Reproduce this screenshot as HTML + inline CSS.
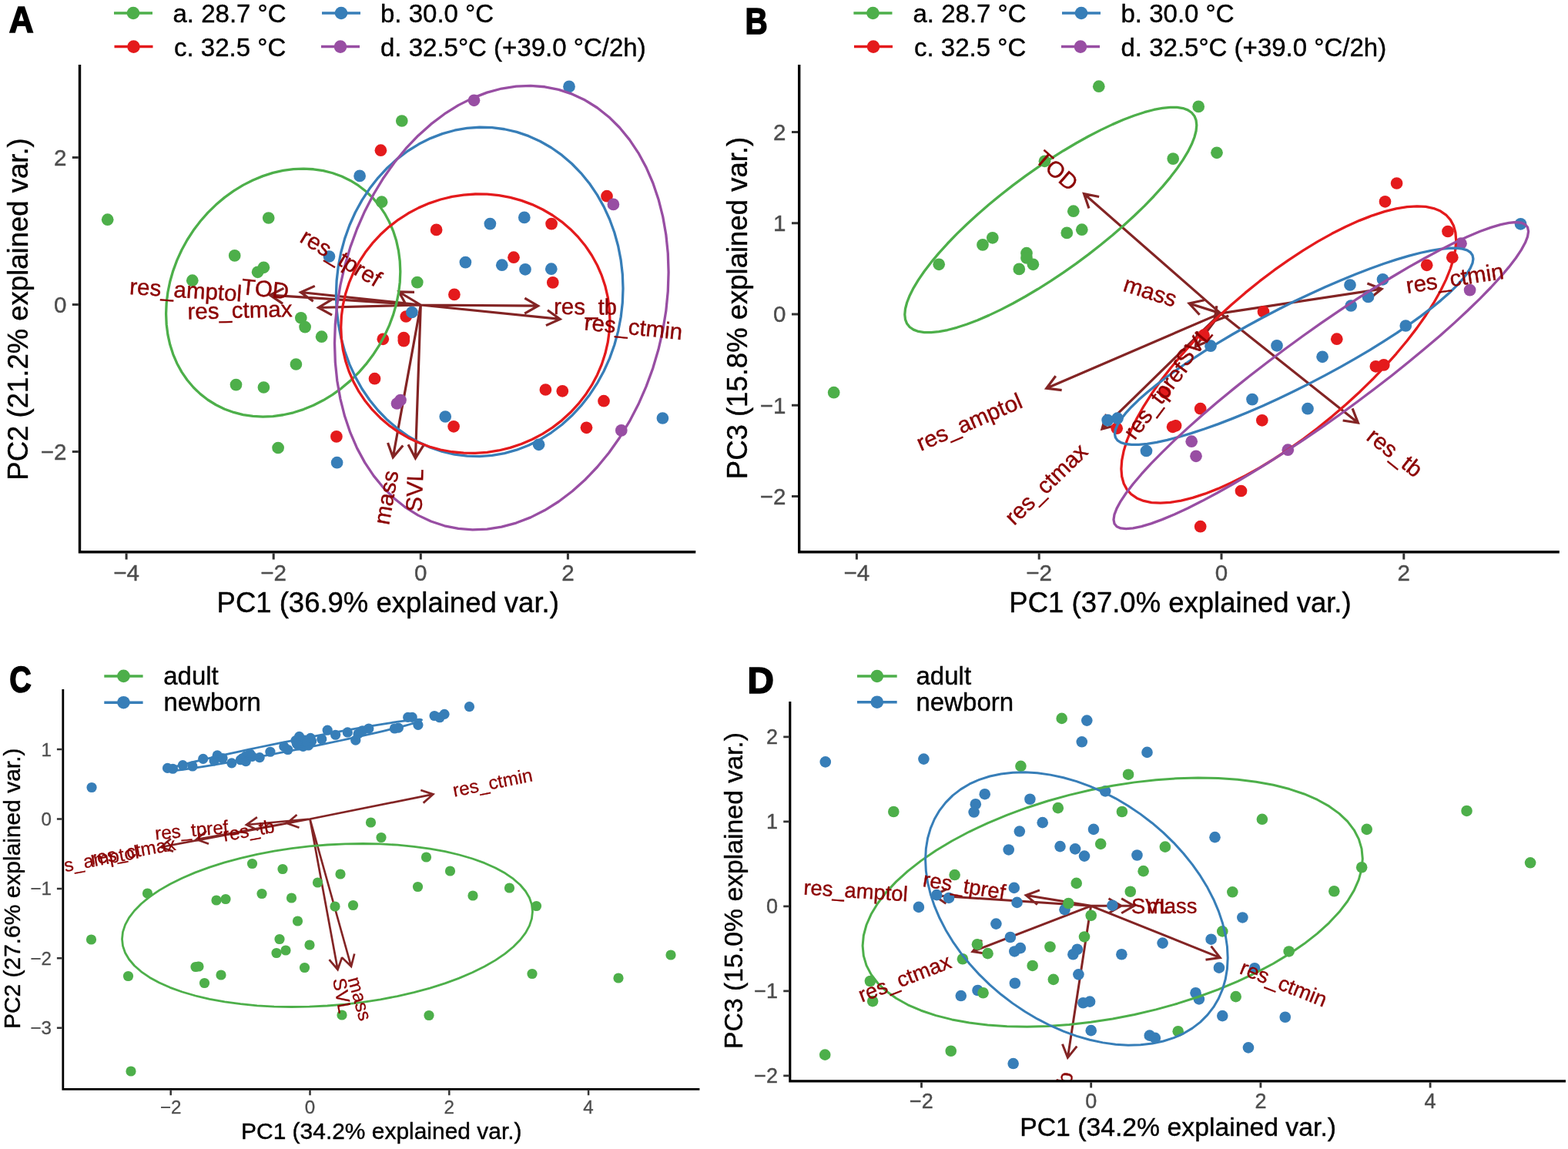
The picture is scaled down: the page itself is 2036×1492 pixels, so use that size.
<!DOCTYPE html>
<html lang="en"><head><meta charset="utf-8"><title>PCA biplots</title>
<style>html,body{margin:0;padding:0;background:#fff;overflow:hidden}svg{display:block}</style></head>
<body>
<svg width="2036" height="1492" viewBox="0 0 2036 1492">
<rect width="2036" height="1492" fill="#fff"/>
<g id="panelA">
<clipPath id="clipA"><rect x="103.5" y="84" width="799.8" height="632.8"/></clipPath>
<g clip-path="url(#clipA)">
<path d="M546.3 396 L698.6 397.2 M681.36 387.06 L698.6 397.2 L681.2 407.06 M546.3 396 L727.2 414.4 M710.98 402.7 L727.2 414.4 L708.96 422.6 M546.3 396 L539.4 595 M549.99 578.04 L539.4 595 L530.01 577.34 M546.3 396 L510.3 593.8 M523.24 578.55 L510.3 593.8 L503.56 574.97 M546.3 396 L518 379 M527.7 396.49 L518 379 L538 379.35 M546.3 396 L350.5 383.2 M367.13 394.31 L350.5 383.2 L368.44 374.35 M546.3 396 L390.5 379.5 M406.67 391.27 L390.5 379.5 L408.78 371.38 M546.3 396 L413.5 399.5 M431.08 409.04 L413.5 399.5 L430.55 389.05" fill="none" stroke="#832424" stroke-width="3.2" stroke-linejoin="miter" stroke-linecap="butt"/>
<g fill="#4DAF4A"><circle cx="139.7" cy="285.2" r="7.85"/><circle cx="348.7" cy="283" r="7.85"/><circle cx="304.7" cy="331.9" r="7.85"/><circle cx="342.4" cy="347.3" r="7.85"/><circle cx="334.6" cy="353.3" r="7.85"/><circle cx="249.8" cy="364.2" r="7.85"/><circle cx="521.8" cy="157" r="7.85"/><circle cx="495.6" cy="262.2" r="7.85"/><circle cx="541.8" cy="366.6" r="7.85"/><circle cx="390.8" cy="412.8" r="7.85"/><circle cx="396.1" cy="424.6" r="7.85"/><circle cx="417.6" cy="437.2" r="7.85"/><circle cx="384.4" cy="473" r="7.85"/><circle cx="306.5" cy="499.6" r="7.85"/><circle cx="342.4" cy="503" r="7.85"/><circle cx="361.1" cy="581.5" r="7.85"/></g>
<g fill="#E41A1C"><circle cx="494.4" cy="195.2" r="7.85"/><circle cx="788" cy="254.7" r="7.85"/><circle cx="566.6" cy="298.4" r="7.85"/><circle cx="716.1" cy="290.6" r="7.85"/><circle cx="667" cy="334.2" r="7.85"/><circle cx="717.8" cy="366.9" r="7.85"/><circle cx="589.9" cy="382.4" r="7.85"/><circle cx="527.2" cy="411" r="7.85"/><circle cx="497.3" cy="440.3" r="7.85"/><circle cx="524.3" cy="438.6" r="7.85"/><circle cx="524.3" cy="442.6" r="7.85"/><circle cx="486.5" cy="491.7" r="7.85"/><circle cx="708.4" cy="506" r="7.85"/><circle cx="730.3" cy="507.8" r="7.85"/><circle cx="784" cy="520.7" r="7.85"/><circle cx="761.5" cy="555.3" r="7.85"/><circle cx="589.1" cy="553.8" r="7.85"/><circle cx="436.9" cy="566.9" r="7.85"/></g>
<g fill="#377EB8"><circle cx="739" cy="112.4" r="7.85"/><circle cx="467.1" cy="228.4" r="7.85"/><circle cx="427.5" cy="333" r="7.85"/><circle cx="636.4" cy="290.6" r="7.85"/><circle cx="680.8" cy="282.4" r="7.85"/><circle cx="604.4" cy="340.6" r="7.85"/><circle cx="651.8" cy="344.2" r="7.85"/><circle cx="682" cy="349.8" r="7.85"/><circle cx="715.8" cy="349.2" r="7.85"/><circle cx="534.9" cy="405.5" r="7.85"/><circle cx="578.2" cy="541" r="7.85"/><circle cx="699.6" cy="577.3" r="7.85"/><circle cx="860.4" cy="543" r="7.85"/><circle cx="437.6" cy="600.7" r="7.85"/></g>
<g fill="#984EA3"><circle cx="615.5" cy="130.3" r="7.85"/><circle cx="796.4" cy="265.4" r="7.85"/><circle cx="515.5" cy="524" r="7.85"/><circle cx="520" cy="519.5" r="7.85"/><circle cx="806.8" cy="558.9" r="7.85"/></g>
<path d="M519.8 352.73 L519.22 366.66 L517.49 380.7 L514.62 394.73 L510.63 408.64 L505.55 422.35 L499.42 435.73 L492.29 448.68 L484.22 461.12 L475.25 472.93 L465.47 484.04 L454.94 494.37 L443.75 503.82 L431.98 512.32 L419.72 519.83 L407.07 526.27 L394.11 531.59 L380.96 535.77 L367.7 538.76 L354.44 540.54 L341.29 541.1 L328.33 540.43 L315.68 538.55 L303.42 535.46 L291.65 531.19 L280.46 525.76 L269.93 519.23 L260.15 511.64 L251.18 503.05 L243.11 493.52 L235.98 483.13 L229.85 471.96 L224.77 460.08 L220.78 447.6 L217.91 434.6 L216.18 421.19 L215.6 407.47 L216.18 393.54 L217.91 379.5 L220.78 365.47 L224.77 351.56 L229.85 337.85 L235.98 324.47 L243.11 311.52 L251.18 299.08 L260.15 287.27 L269.93 276.16 L280.46 265.83 L291.65 256.38 L303.42 247.88 L315.68 240.37 L328.33 233.93 L341.29 228.61 L354.44 224.43 L367.7 221.44 L380.96 219.66 L394.11 219.1 L407.07 219.77 L419.72 221.65 L431.98 224.74 L443.75 229.01 L454.94 234.44 L465.47 240.97 L475.25 248.56 L484.22 257.15 L492.29 266.68 L499.42 277.07 L505.55 288.24 L510.63 300.12 L514.62 312.6 L517.49 325.6 L519.22 339.01Z" fill="none" stroke="#4DAF4A" stroke-width="3.3" stroke-linejoin="round"/>
<path d="M809 374.63 L808.29 393.26 L806.17 411.79 L802.65 430.07 L797.76 447.96 L791.55 465.32 L784.04 482.03 L775.31 497.95 L765.41 512.96 L754.43 526.96 L742.45 539.82 L729.56 551.47 L715.85 561.8 L701.43 570.73 L686.42 578.21 L670.92 584.17 L655.05 588.57 L638.94 591.37 L622.7 592.56 L606.46 592.12 L590.35 590.05 L574.48 586.38 L558.98 581.13 L543.97 574.35 L529.55 566.07 L515.84 556.37 L502.95 545.32 L490.97 533 L479.99 519.51 L470.09 504.95 L461.36 489.43 L453.85 473.07 L447.64 455.99 L442.75 438.33 L439.23 420.21 L437.11 401.78 L436.4 383.17 L437.11 364.54 L439.23 346.01 L442.75 327.73 L447.64 309.84 L453.85 292.48 L461.36 275.77 L470.09 259.85 L479.99 244.84 L490.97 230.84 L502.95 217.98 L515.84 206.33 L529.55 196 L543.97 187.07 L558.98 179.59 L574.48 173.63 L590.35 169.23 L606.46 166.43 L622.7 165.24 L638.94 165.68 L655.05 167.75 L670.92 171.42 L686.42 176.67 L701.43 183.45 L715.85 191.73 L729.56 201.43 L742.45 212.48 L754.43 224.8 L765.41 238.29 L775.31 252.85 L784.04 268.37 L791.55 284.73 L797.76 301.81 L802.65 319.47 L806.17 337.59 L808.29 356.02Z" fill="none" stroke="#377EB8" stroke-width="3.3" stroke-linejoin="round"/>
<path d="M791.9 415.15 L791.24 429.83 L789.25 444.44 L785.95 458.86 L781.37 472.99 L775.54 486.72 L768.51 499.94 L760.32 512.55 L751.05 524.46 L740.76 535.58 L729.53 545.82 L717.45 555.11 L704.6 563.36 L691.09 570.53 L677.02 576.55 L662.49 581.39 L647.62 584.99 L632.52 587.34 L617.3 588.42 L602.08 588.22 L586.98 586.75 L572.11 584 L557.58 580.01 L543.51 574.8 L530 568.41 L517.15 560.9 L505.07 552.31 L493.84 542.72 L483.55 532.2 L474.28 520.83 L466.09 508.68 L459.06 495.87 L453.23 482.48 L448.65 468.62 L445.35 454.38 L443.36 439.89 L442.7 425.25 L443.36 410.57 L445.35 395.96 L448.65 381.54 L453.23 367.41 L459.06 353.68 L466.09 340.46 L474.28 327.85 L483.55 315.94 L493.84 304.82 L505.07 294.58 L517.15 285.29 L530 277.04 L543.51 269.87 L557.58 263.85 L572.11 259.01 L586.98 255.41 L602.08 253.06 L617.3 251.98 L632.52 252.18 L647.62 253.65 L662.49 256.4 L677.02 260.39 L691.09 265.6 L704.6 271.99 L717.45 279.5 L729.53 288.09 L740.76 297.68 L751.05 308.2 L760.32 319.57 L768.51 331.72 L775.54 344.53 L781.37 357.92 L785.95 371.78 L789.25 386.02 L791.24 400.51Z" fill="none" stroke="#E41A1C" stroke-width="3.3" stroke-linejoin="round"/>
<path d="M868.1 353.47 L867.28 378.45 L864.81 403.59 L860.71 428.7 L855.03 453.59 L847.79 478.07 L839.05 501.94 L828.89 525.05 L817.38 547.19 L804.6 568.22 L790.66 587.95 L775.65 606.26 L759.7 622.99 L742.92 638.03 L725.45 651.25 L707.41 662.55 L688.95 671.85 L670.2 679.08 L651.3 684.19 L632.4 687.12 L613.65 687.87 L595.19 686.43 L577.15 682.8 L559.68 677.02 L542.9 669.12 L526.95 659.18 L511.94 647.26 L498 633.45 L485.22 617.86 L473.71 600.62 L463.55 581.84 L454.81 561.68 L447.57 540.28 L441.89 517.81 L437.79 494.45 L435.32 470.36 L434.5 445.73 L435.32 420.75 L437.79 395.61 L441.89 370.5 L447.57 345.61 L454.81 321.13 L463.55 297.26 L473.71 274.15 L485.22 252.01 L498 230.98 L511.94 211.25 L526.95 192.94 L542.9 176.21 L559.68 161.17 L577.15 147.95 L595.19 136.65 L613.65 127.35 L632.4 120.12 L651.3 115.01 L670.2 112.08 L688.95 111.33 L707.41 112.77 L725.45 116.4 L742.92 122.18 L759.7 130.08 L775.65 140.02 L790.66 151.94 L804.6 165.75 L817.38 181.34 L828.89 198.58 L839.05 217.36 L847.79 237.52 L855.03 258.92 L860.71 281.39 L864.81 304.75 L867.28 328.84Z" fill="none" stroke="#984EA3" stroke-width="3.3" stroke-linejoin="round"/>
<g fill="#8B0000" stroke="#8B0000" stroke-width="0.4" font-family="'Liberation Sans', sans-serif" font-size="29.5">
<text x="760.09" y="397.68" text-anchor="middle" dy="0.36em" transform="rotate(0.45 760.09 397.68)">res_tb</text>
<text x="822.61" y="424.1" text-anchor="middle" dy="0.36em" transform="rotate(5.81 822.61 424.1)">res_ctmin</text>
<text x="537.95" y="636.79" text-anchor="middle" dy="0.36em" transform="rotate(-88.01 537.95 636.79)">SVL</text>
<text x="500.83" y="645.81" text-anchor="middle" dy="0.36em" transform="rotate(-79.68 500.83 645.81)">mass</text>
<text x="443.15" y="334.04" text-anchor="middle" dy="0.36em" transform="rotate(30.99 443.15 334.04)">res_tpref</text>
<text x="241.28" y="376.06" text-anchor="middle" dy="0.36em" transform="rotate(3.74 241.28 376.06)">res_amptol</text>
<text x="344.45" y="374.62" text-anchor="middle" dy="0.36em" transform="rotate(6.05 344.45 374.62)">TOD</text>
<text x="311.49" y="402.19" text-anchor="middle" dy="0.36em" transform="rotate(-1.51 311.49 402.19)">res_ctmax</text>
</g>
</g>
<path d="M103.5 84 L103.5 716.8 L903.3 716.8" fill="none" stroke="#000" stroke-width="3.4" stroke-linejoin="miter"/>
<path d="M164.1 718.5 v8 M355.2 718.5 v8 M546.3 718.5 v8 M737.4 718.5 v8 M101.8 204.5 h-8 M101.8 395.5 h-8 M101.8 586.4 h-8" stroke="#333" stroke-width="3" fill="none"/>
<g fill="#4D4D4D" stroke="#4D4D4D" stroke-width="0.4" font-family="'Liberation Sans', sans-serif" font-size="29.6">
<text x="164.1" y="754.2" text-anchor="middle">−4</text>
<text x="355.2" y="754.2" text-anchor="middle">−2</text>
<text x="546.3" y="754.2" text-anchor="middle">0</text>
<text x="737.4" y="754.2" text-anchor="middle">2</text>
<text x="86.5" y="214.8" text-anchor="end">2</text>
<text x="86.5" y="405.8" text-anchor="end">0</text>
<text x="86.5" y="596.7" text-anchor="end">−2</text>
</g>
<text x="503.7" y="795" text-anchor="middle" font-family="'Liberation Sans', sans-serif" font-size="36.5" fill="#000" stroke="#000" stroke-width="0.4">PC1 (36.9% explained var.)</text>
<text x="36.4" y="401.5" text-anchor="middle" font-family="'Liberation Sans', sans-serif" font-size="36.5" fill="#000" stroke="#000" stroke-width="0.4" transform="rotate(-90 36.4 401.5)">PC2 (21.2% explained var.)</text>
<line x1="148" y1="17" x2="198" y2="17" stroke="#4DAF4A" stroke-width="3.5"/>
<circle cx="173" cy="17" r="8.3" fill="#4DAF4A"/>
<text x="224.5" y="29.3" font-family="'Liberation Sans', sans-serif" font-size="33" fill="#000" stroke="#000" stroke-width="0.4">a. 28.7 °C</text>
<line x1="418" y1="17" x2="468" y2="17" stroke="#377EB8" stroke-width="3.5"/>
<circle cx="443" cy="17" r="8.3" fill="#377EB8"/>
<text x="494" y="29.3" font-family="'Liberation Sans', sans-serif" font-size="33" fill="#000" stroke="#000" stroke-width="0.4">b. 30.0 °C</text>
<line x1="148.5" y1="60.6" x2="198.5" y2="60.6" stroke="#E41A1C" stroke-width="3.5"/>
<circle cx="173.5" cy="60.6" r="8.3" fill="#E41A1C"/>
<text x="226" y="72.6" font-family="'Liberation Sans', sans-serif" font-size="33" fill="#000" stroke="#000" stroke-width="0.4">c. 32.5 °C</text>
<line x1="417" y1="60.6" x2="467" y2="60.6" stroke="#984EA3" stroke-width="3.5"/>
<circle cx="442" cy="60.6" r="8.3" fill="#984EA3"/>
<text x="494" y="72.6" font-family="'Liberation Sans', sans-serif" font-size="33" fill="#000" stroke="#000" stroke-width="0.4">d. 32.5°C (+39.0 °C/2h)</text>
<text x="0" y="0" font-family="'Liberation Sans', sans-serif" font-weight="bold" font-size="47.5" fill="#000" stroke="#000" stroke-width="1.6" transform="translate(11.7 42.4) scale(0.93 1)">A</text>
</g>
<g id="panelB">
<clipPath id="clipB"><rect x="1037.7" y="84" width="987.1" height="632.8"/></clipPath>
<g clip-path="url(#clipB)">
<path d="M1584.9 406.9 L1407.5 251.6 M1413.95 270.53 L1407.5 251.6 L1427.12 255.48 M1584.9 406.9 L1544.1 394 M1557.6 408.76 L1544.1 394 L1563.63 389.69 M1584.9 406.9 L1794 375.2 M1775.38 367.91 L1794 375.2 L1778.37 387.68 M1584.9 406.9 L1763.4 549 M1756.08 530.39 L1763.4 549 L1743.62 546.04 M1584.9 406.9 L1358.8 504.2 M1378.66 506.54 L1358.8 504.2 L1370.76 488.17 M1584.9 406.9 L1431 557 M1450.38 552.07 L1431 557 L1436.42 537.75 M1584.9 406.9 L1552.4 450 M1570.81 442.19 L1552.4 450 L1554.84 430.15 M1584.9 406.9 L1576.6 417 M1595.32 409.97 L1576.6 417 L1579.87 397.27" fill="none" stroke="#832424" stroke-width="3.2" stroke-linejoin="miter" stroke-linecap="butt"/>
<g fill="#4DAF4A"><circle cx="1426.8" cy="112.2" r="7.85"/><circle cx="1556.2" cy="138.4" r="7.85"/><circle cx="1580" cy="198.3" r="7.85"/><circle cx="1523.2" cy="206.1" r="7.85"/><circle cx="1356.5" cy="209.3" r="7.85"/><circle cx="1393.8" cy="274.2" r="7.85"/><circle cx="1404.8" cy="298.2" r="7.85"/><circle cx="1385.3" cy="302.4" r="7.85"/><circle cx="1288.8" cy="308.8" r="7.85"/><circle cx="1276" cy="317.9" r="7.85"/><circle cx="1333" cy="328.7" r="7.85"/><circle cx="1333" cy="334.9" r="7.85"/><circle cx="1341.4" cy="343.3" r="7.85"/><circle cx="1323.3" cy="349.4" r="7.85"/><circle cx="1219.2" cy="343.3" r="7.85"/><circle cx="1082.7" cy="509.7" r="7.85"/></g>
<g fill="#E41A1C"><circle cx="1813.6" cy="238" r="7.85"/><circle cx="1798.5" cy="261.8" r="7.85"/><circle cx="1880" cy="300.5" r="7.85"/><circle cx="1885.8" cy="334.2" r="7.85"/><circle cx="1852.7" cy="344.3" r="7.85"/><circle cx="1640.5" cy="404.8" r="7.85"/><circle cx="1735.8" cy="440.2" r="7.85"/><circle cx="1786.4" cy="475.8" r="7.85"/><circle cx="1796.8" cy="473.9" r="7.85"/><circle cx="1563" cy="435.2" r="7.85"/><circle cx="1558.7" cy="530.7" r="7.85"/><circle cx="1638.8" cy="545.8" r="7.85"/><circle cx="1522.6" cy="554.3" r="7.85"/><circle cx="1526.6" cy="552.8" r="7.85"/><circle cx="1450.2" cy="556.2" r="7.85"/><circle cx="1611.5" cy="637.5" r="7.85"/><circle cx="1558.7" cy="683.7" r="7.85"/><circle cx="1512.6" cy="509.8" r="7.85"/></g>
<g fill="#377EB8"><circle cx="1974.5" cy="290.8" r="7.85"/><circle cx="1795.5" cy="362.8" r="7.85"/><circle cx="1753" cy="370" r="7.85"/><circle cx="1776.5" cy="385.4" r="7.85"/><circle cx="1754.2" cy="397" r="7.85"/><circle cx="1825.3" cy="423" r="7.85"/><circle cx="1658" cy="448.8" r="7.85"/><circle cx="1572" cy="449.2" r="7.85"/><circle cx="1717.1" cy="463.3" r="7.85"/><circle cx="1626" cy="518.6" r="7.85"/><circle cx="1698" cy="530.7" r="7.85"/><circle cx="1438.2" cy="545.6" r="7.85"/><circle cx="1451" cy="543.2" r="7.85"/><circle cx="1488.5" cy="585.5" r="7.85"/></g>
<g fill="#984EA3"><circle cx="1897" cy="316.2" r="7.85"/><circle cx="1908.6" cy="376.6" r="7.85"/><circle cx="1547.2" cy="573.2" r="7.85"/><circle cx="1553" cy="592.3" r="7.85"/><circle cx="1672.3" cy="584.2" r="7.85"/></g>
<path d="M1553.8 162.61 L1553.08 169.99 L1550.92 178.26 L1547.34 187.34 L1542.37 197.17 L1536.05 207.67 L1528.41 218.76 L1519.53 230.36 L1509.47 242.38 L1498.3 254.73 L1486.11 267.32 L1472.99 280.04 L1459.05 292.8 L1444.39 305.51 L1429.11 318.06 L1413.35 330.37 L1397.21 342.33 L1380.82 353.87 L1364.3 364.88 L1347.78 375.29 L1331.39 385.01 L1315.25 393.98 L1299.49 402.12 L1284.21 409.38 L1269.55 415.69 L1255.61 421.01 L1242.49 425.3 L1230.3 428.53 L1219.13 430.67 L1209.07 431.7 L1200.19 431.62 L1192.55 430.43 L1186.23 428.13 L1181.26 424.75 L1177.68 420.31 L1175.52 414.84 L1174.8 408.39 L1175.52 401.01 L1177.68 392.74 L1181.26 383.66 L1186.23 373.83 L1192.55 363.33 L1200.19 352.24 L1209.07 340.64 L1219.13 328.62 L1230.3 316.27 L1242.49 303.68 L1255.61 290.96 L1269.55 278.2 L1284.21 265.49 L1299.49 252.94 L1315.25 240.63 L1331.39 228.67 L1347.78 217.13 L1364.3 206.12 L1380.82 195.71 L1397.21 185.99 L1413.35 177.02 L1429.11 168.88 L1444.39 161.62 L1459.05 155.31 L1472.99 149.99 L1486.11 145.7 L1498.3 142.47 L1509.47 140.33 L1519.53 139.3 L1528.41 139.38 L1536.05 140.57 L1542.37 142.87 L1547.34 146.25 L1550.92 150.69 L1553.08 156.16Z" fill="none" stroke="#4DAF4A" stroke-width="3.3" stroke-linejoin="round"/>
<path d="M1890.7 312.12 L1889.87 323.4 L1887.4 335.73 L1883.29 349 L1877.59 363.12 L1870.33 377.98 L1861.57 393.48 L1851.38 409.48 L1839.84 425.87 L1827.03 442.52 L1813.04 459.31 L1798 476.11 L1782 492.79 L1765.18 509.22 L1747.66 525.29 L1729.57 540.86 L1711.05 555.82 L1692.25 570.05 L1673.3 583.45 L1654.35 595.92 L1635.55 607.35 L1617.03 617.66 L1598.94 626.78 L1581.42 634.64 L1564.6 641.17 L1548.6 646.32 L1533.56 650.06 L1519.57 652.36 L1506.76 653.2 L1495.22 652.57 L1485.03 650.48 L1476.27 646.94 L1469.01 641.98 L1463.31 635.65 L1459.2 627.98 L1456.73 619.03 L1455.9 608.88 L1456.73 597.6 L1459.2 585.27 L1463.31 572 L1469.01 557.88 L1476.27 543.02 L1485.03 527.52 L1495.22 511.52 L1506.76 495.13 L1519.57 478.48 L1533.56 461.69 L1548.6 444.89 L1564.6 428.21 L1581.42 411.78 L1598.94 395.71 L1617.03 380.14 L1635.55 365.18 L1654.35 350.95 L1673.3 337.55 L1692.25 325.08 L1711.05 313.65 L1729.57 303.34 L1747.66 294.22 L1765.18 286.36 L1782 279.83 L1798 274.68 L1813.04 270.94 L1827.03 268.64 L1839.84 267.8 L1851.38 268.43 L1861.57 270.52 L1870.33 274.06 L1877.59 279.02 L1883.29 285.35 L1887.4 293.02 L1889.87 301.97Z" fill="none" stroke="#E41A1C" stroke-width="3.3" stroke-linejoin="round"/>
<path d="M1912.9 336.15 L1912.01 341.65 L1909.36 347.98 L1904.97 355.09 L1898.87 362.92 L1891.1 371.4 L1881.72 380.49 L1870.82 390.1 L1858.46 400.16 L1844.74 410.61 L1829.78 421.35 L1813.67 432.31 L1796.55 443.4 L1778.54 454.54 L1759.79 465.64 L1740.43 476.63 L1720.61 487.41 L1700.48 497.9 L1680.2 508.03 L1659.92 517.71 L1639.79 526.88 L1619.97 535.46 L1600.61 543.39 L1581.86 550.6 L1563.85 557.05 L1546.73 562.68 L1530.62 567.46 L1515.66 571.34 L1501.94 574.29 L1489.58 576.3 L1478.68 577.34 L1469.3 577.41 L1461.53 576.51 L1455.43 574.65 L1451.04 571.84 L1448.39 568.1 L1447.5 563.45 L1448.39 557.95 L1451.04 551.62 L1455.43 544.51 L1461.53 536.68 L1469.3 528.2 L1478.68 519.11 L1489.58 509.5 L1501.94 499.44 L1515.66 488.99 L1530.62 478.25 L1546.73 467.29 L1563.85 456.2 L1581.86 445.06 L1600.61 433.96 L1619.97 422.97 L1639.79 412.19 L1659.92 401.7 L1680.2 391.57 L1700.48 381.89 L1720.61 372.72 L1740.43 364.14 L1759.79 356.21 L1778.54 349 L1796.55 342.55 L1813.67 336.92 L1829.78 332.14 L1844.74 328.26 L1858.46 325.31 L1870.82 323.3 L1881.72 322.26 L1891.1 322.19 L1898.87 323.09 L1904.97 324.95 L1909.36 327.76 L1912.01 331.5Z" fill="none" stroke="#377EB8" stroke-width="3.3" stroke-linejoin="round"/>
<path d="M1984.6 300.45 L1983.58 307.08 L1980.51 315.08 L1975.42 324.4 L1968.36 334.97 L1959.37 346.69 L1948.52 359.48 L1935.9 373.25 L1921.6 387.89 L1905.72 403.29 L1888.4 419.34 L1869.76 435.9 L1849.95 452.85 L1829.11 470.07 L1807.41 487.42 L1785 504.77 L1762.06 522 L1738.77 538.96 L1715.3 555.53 L1691.83 571.58 L1668.54 586.99 L1645.6 601.65 L1623.19 615.44 L1601.49 628.26 L1580.65 640 L1560.84 650.59 L1542.2 659.94 L1524.88 667.97 L1509 674.63 L1494.7 679.87 L1482.08 683.64 L1471.23 685.93 L1462.24 686.7 L1455.18 685.96 L1450.09 683.71 L1447.02 679.96 L1446 674.75 L1447.02 668.12 L1450.09 660.12 L1455.18 650.8 L1462.24 640.23 L1471.23 628.51 L1482.08 615.72 L1494.7 601.95 L1509 587.31 L1524.88 571.91 L1542.2 555.86 L1560.84 539.3 L1580.65 522.35 L1601.49 505.13 L1623.19 487.78 L1645.6 470.43 L1668.54 453.2 L1691.83 436.24 L1715.3 419.67 L1738.77 403.62 L1762.06 388.21 L1785 373.55 L1807.41 359.76 L1829.11 346.94 L1849.95 335.2 L1869.76 324.61 L1888.4 315.26 L1905.72 307.23 L1921.6 300.57 L1935.9 295.33 L1948.52 291.56 L1959.37 289.27 L1968.36 288.5 L1975.42 289.24 L1980.51 291.49 L1983.58 295.24Z" fill="none" stroke="#984EA3" stroke-width="3.3" stroke-linejoin="round"/>
<g fill="#8B0000" stroke="#8B0000" stroke-width="0.4" font-family="'Liberation Sans', sans-serif" font-size="29.5">
<text x="1372.66" y="221.1" text-anchor="middle" dy="0.36em" transform="rotate(41.2 1372.66 221.1)">TOD</text>
<text x="1493.7" y="378.06" text-anchor="middle" dy="0.36em" transform="rotate(17.55 1493.7 378.06)">mass</text>
<text x="1888.82" y="360.83" text-anchor="middle" dy="0.36em" transform="rotate(-8.62 1888.82 360.83)">res_ctmin</text>
<text x="1811.51" y="587.3" text-anchor="middle" dy="0.36em" transform="rotate(38.52 1811.51 587.3)">res_tb</text>
<text x="1258.26" y="547.46" text-anchor="middle" dy="0.36em" transform="rotate(-23.28 1258.26 547.46)">res_amptol</text>
<text x="1357.94" y="628.25" text-anchor="middle" dy="0.36em" transform="rotate(-44.28 1357.94 628.25)">res_ctmax</text>
<text x="1499.83" y="519.72" text-anchor="middle" dy="0.36em" transform="rotate(-52.98 1499.83 519.72)">res_tpref</text>
<text x="1550.05" y="449.31" text-anchor="middle" dy="0.36em" transform="rotate(-50.59 1550.05 449.31)">SVL</text>
</g>
</g>
<path d="M1037.7 84 L1037.7 716.8 L2024.8 716.8" fill="none" stroke="#000" stroke-width="3.4" stroke-linejoin="miter"/>
<path d="M1112.4 718.5 v8 M1349.2 718.5 v8 M1586 718.5 v8 M1822.8 718.5 v8 M1036 171.4 h-8 M1036 289.7 h-8 M1036 408 h-8 M1036 526.3 h-8 M1036 644.6 h-8" stroke="#333" stroke-width="3" fill="none"/>
<g fill="#4D4D4D" stroke="#4D4D4D" stroke-width="0.4" font-family="'Liberation Sans', sans-serif" font-size="29.6">
<text x="1112.4" y="754.2" text-anchor="middle">−4</text>
<text x="1349.2" y="754.2" text-anchor="middle">−2</text>
<text x="1586" y="754.2" text-anchor="middle">0</text>
<text x="1822.8" y="754.2" text-anchor="middle">2</text>
<text x="1020.5" y="181.7" text-anchor="end">2</text>
<text x="1020.5" y="300" text-anchor="end">1</text>
<text x="1020.5" y="418.3" text-anchor="end">0</text>
<text x="1020.5" y="536.6" text-anchor="end">−1</text>
<text x="1020.5" y="654.9" text-anchor="end">−2</text>
</g>
<text x="1532.5" y="795.3" text-anchor="middle" font-family="'Liberation Sans', sans-serif" font-size="36.5" fill="#000" stroke="#000" stroke-width="0.4">PC1 (37.0% explained var.)</text>
<text x="969.6" y="400" text-anchor="middle" font-family="'Liberation Sans', sans-serif" font-size="36.5" fill="#000" stroke="#000" stroke-width="0.4" transform="rotate(-90 969.6 400)">PC3 (15.8% explained var.)</text>
<line x1="1108.4" y1="17" x2="1158.5" y2="17" stroke="#4DAF4A" stroke-width="3.5"/>
<circle cx="1133.45" cy="17" r="8.3" fill="#4DAF4A"/>
<text x="1185.5" y="29.3" font-family="'Liberation Sans', sans-serif" font-size="33" fill="#000" stroke="#000" stroke-width="0.4">a. 28.7 °C</text>
<line x1="1379" y1="17" x2="1429" y2="17" stroke="#377EB8" stroke-width="3.5"/>
<circle cx="1404" cy="17" r="8.3" fill="#377EB8"/>
<text x="1455.5" y="29.3" font-family="'Liberation Sans', sans-serif" font-size="33" fill="#000" stroke="#000" stroke-width="0.4">b. 30.0 °C</text>
<line x1="1109" y1="60.6" x2="1159" y2="60.6" stroke="#E41A1C" stroke-width="3.5"/>
<circle cx="1134" cy="60.6" r="8.3" fill="#E41A1C"/>
<text x="1187" y="72.6" font-family="'Liberation Sans', sans-serif" font-size="33" fill="#000" stroke="#000" stroke-width="0.4">c. 32.5 °C</text>
<line x1="1378" y1="60.6" x2="1428" y2="60.6" stroke="#984EA3" stroke-width="3.5"/>
<circle cx="1403" cy="60.6" r="8.3" fill="#984EA3"/>
<text x="1455.5" y="72.6" font-family="'Liberation Sans', sans-serif" font-size="33" fill="#000" stroke="#000" stroke-width="0.4">d. 32.5°C (+39.0 °C/2h)</text>
<text x="0" y="0" font-family="'Liberation Sans', sans-serif" font-weight="bold" font-size="48.2" fill="#000" stroke="#000" stroke-width="1.6" transform="translate(967.6 43.6) scale(0.84 1)">B</text>
</g>
<g id="panelC">
<clipPath id="clipC"><rect x="81.8" y="895" width="826.6" height="519.3"/></clipPath>
<g clip-path="url(#clipC)">
<path d="M402.5 1063.5 L562.4 1031.4 M546.29 1025.96 L562.4 1031.4 L549.64 1042.63 M402.5 1063.5 L372.5 1069 M388.51 1074.71 L372.5 1069 L385.45 1057.98 M402.5 1063.5 L320 1071 M335.43 1078.13 L320 1071 L333.89 1061.2 M402.5 1063.5 L255 1090 M270.99 1095.76 L255 1090 L267.99 1079.03 M402.5 1063.5 L209 1100 M225.04 1105.62 L209 1100 L221.89 1088.92 M402.5 1063.5 L456 1255 M460.23 1238.53 L456 1255 L443.85 1243.11 M402.5 1063.5 L438.5 1259 M444.19 1242.98 L438.5 1259 L427.47 1246.06" fill="none" stroke="#832424" stroke-width="2.7" stroke-linejoin="miter" stroke-linecap="butt"/>
<g fill="#4DAF4A"><circle cx="481.5" cy="1068" r="6.6"/><circle cx="495" cy="1087.5" r="6.6"/><circle cx="553.5" cy="1113" r="6.6"/><circle cx="584.5" cy="1131" r="6.6"/><circle cx="327.5" cy="1121.5" r="6.6"/><circle cx="367" cy="1128.5" r="6.6"/><circle cx="442" cy="1135" r="6.6"/><circle cx="412.5" cy="1146" r="6.6"/><circle cx="542.5" cy="1151.5" r="6.6"/><circle cx="661.5" cy="1153" r="6.6"/><circle cx="614" cy="1163" r="6.6"/><circle cx="191.5" cy="1160" r="6.6"/><circle cx="340" cy="1160.5" r="6.6"/><circle cx="378.5" cy="1166" r="6.6"/><circle cx="281" cy="1169" r="6.6"/><circle cx="293" cy="1167.5" r="6.6"/><circle cx="435" cy="1177" r="6.6"/><circle cx="458.5" cy="1175.5" r="6.6"/><circle cx="696.5" cy="1176.5" r="6.6"/><circle cx="386.5" cy="1196" r="6.6"/><circle cx="118.5" cy="1220" r="6.6"/><circle cx="363" cy="1219.5" r="6.6"/><circle cx="402" cy="1227" r="6.6"/><circle cx="371" cy="1234" r="6.6"/><circle cx="359" cy="1237.5" r="6.6"/><circle cx="871" cy="1240" r="6.6"/><circle cx="254" cy="1255.5" r="6.6"/><circle cx="258" cy="1255" r="6.6"/><circle cx="395.5" cy="1256.5" r="6.6"/><circle cx="166.5" cy="1267.5" r="6.6"/><circle cx="287" cy="1266" r="6.6"/><circle cx="265.5" cy="1276.5" r="6.6"/><circle cx="691" cy="1264.5" r="6.6"/><circle cx="803" cy="1270" r="6.6"/><circle cx="444" cy="1318" r="6.6"/><circle cx="557" cy="1318.5" r="6.6"/><circle cx="170" cy="1391" r="6.6"/></g>
<g fill="#377EB8"><circle cx="119.06" cy="1022.48" r="6.6"/><circle cx="609.47" cy="917.68" r="6.6"/><circle cx="577.02" cy="927.31" r="6.6"/><circle cx="570.96" cy="931.71" r="6.6"/><circle cx="564.09" cy="929.51" r="6.6"/><circle cx="542.91" cy="941.34" r="6.6"/><circle cx="535.21" cy="931.43" r="6.6"/><circle cx="529.71" cy="931.43" r="6.6"/><circle cx="517.33" cy="945.19" r="6.6"/><circle cx="512.38" cy="946.01" r="6.6"/><circle cx="478.82" cy="946.01" r="6.6"/><circle cx="470.57" cy="948.76" r="6.6"/><circle cx="465.07" cy="952.89" r="6.6"/><circle cx="461.77" cy="961.14" r="6.6"/><circle cx="451.32" cy="950.96" r="6.6"/><circle cx="435.64" cy="954.26" r="6.6"/><circle cx="425.19" cy="948.21" r="6.6"/><circle cx="417.76" cy="959.76" r="6.6"/><circle cx="404.56" cy="962.52" r="6.6"/><circle cx="400.43" cy="968.02" r="6.6"/><circle cx="396.31" cy="961.14" r="6.6"/><circle cx="392.18" cy="965.27" r="6.6"/><circle cx="388.61" cy="956.46" r="6.6"/><circle cx="383.93" cy="961.69" r="6.6"/><circle cx="388.06" cy="968.02" r="6.6"/><circle cx="393.56" cy="969.39" r="6.6"/><circle cx="373.75" cy="973.52" r="6.6"/><circle cx="368.8" cy="969.39" r="6.6"/><circle cx="350.92" cy="976.27" r="6.6"/><circle cx="337.17" cy="983.69" r="6.6"/><circle cx="324.79" cy="979.02" r="6.6"/><circle cx="319.29" cy="981.77" r="6.6"/><circle cx="315.17" cy="984.52" r="6.6"/><circle cx="319.29" cy="988.64" r="6.6"/><circle cx="300.87" cy="990.85" r="6.6"/><circle cx="289.04" cy="984.52" r="6.6"/><circle cx="282.16" cy="980.94" r="6.6"/><circle cx="278.04" cy="987.82" r="6.6"/><circle cx="263.73" cy="985.34" r="6.6"/><circle cx="249.98" cy="994.97" r="6.6"/><circle cx="237.33" cy="993.6" r="6.6"/><circle cx="224.4" cy="998.27" r="6.6"/><circle cx="217.53" cy="997.45" r="6.6"/><circle cx="390.81" cy="962.52" r="6.6"/><circle cx="399.06" cy="963.89" r="6.6"/><circle cx="385.31" cy="965.82" r="6.6"/><circle cx="327.55" cy="982.32" r="6.6"/><circle cx="312.42" cy="986.72" r="6.6"/><circle cx="403.18" cy="958.39" r="6.6"/></g>
<path d="M691.5 1183.69 L690.49 1192.87 L687.45 1202.11 L682.42 1211.34 L675.43 1220.5 L666.53 1229.52 L655.8 1238.32 L643.3 1246.85 L629.15 1255.03 L613.44 1262.8 L596.3 1270.1 L577.86 1276.88 L558.25 1283.09 L537.63 1288.68 L516.15 1293.6 L493.98 1297.82 L471.28 1301.31 L448.23 1304.04 L425 1305.99 L401.77 1307.15 L378.72 1307.5 L356.02 1307.04 L333.85 1305.78 L312.37 1303.73 L291.75 1300.9 L272.14 1297.31 L253.7 1292.99 L236.56 1287.98 L220.85 1282.31 L206.7 1276.02 L194.2 1269.17 L183.47 1261.8 L174.57 1253.97 L167.58 1245.75 L162.55 1237.18 L159.51 1228.35 L158.5 1219.31 L159.51 1210.13 L162.55 1200.89 L167.58 1191.66 L174.57 1182.5 L183.47 1173.48 L194.2 1164.68 L206.7 1156.15 L220.85 1147.97 L236.56 1140.2 L253.7 1132.9 L272.14 1126.12 L291.75 1119.91 L312.37 1114.32 L333.85 1109.4 L356.02 1105.18 L378.72 1101.69 L401.77 1098.96 L425 1097.01 L448.23 1095.85 L471.28 1095.5 L493.98 1095.96 L516.15 1097.22 L537.63 1099.27 L558.25 1102.1 L577.86 1105.69 L596.3 1110.01 L613.44 1115.02 L629.15 1120.69 L643.3 1126.98 L655.8 1133.83 L666.53 1141.2 L675.43 1149.03 L682.42 1157.25 L687.45 1165.82 L690.49 1174.65Z" fill="none" stroke="#4DAF4A" stroke-width="2.8" stroke-linejoin="round"/>
<path d="M547.47 934.78 L546.95 935.44 L545.16 936.35 L542.12 937.5 L537.86 938.88 L532.41 940.47 L525.81 942.28 L518.1 944.28 L509.36 946.45 L499.64 948.79 L489.01 951.27 L477.57 953.88 L465.4 956.59 L452.58 959.39 L439.22 962.25 L425.42 965.15 L411.28 968.07 L396.91 970.99 L382.42 973.88 L367.93 976.73 L353.53 979.5 L339.35 982.19 L325.48 984.77 L312.04 987.21 L299.12 989.51 L286.83 991.65 L275.26 993.6 L264.49 995.35 L254.61 996.89 L245.7 998.21 L237.82 999.3 L231.02 1000.15 L225.37 1000.75 L220.91 1001.1 L217.67 1001.2 L215.67 1001.04 L214.93 1000.62 L215.45 999.96 L217.24 999.05 L220.28 997.9 L224.54 996.52 L229.99 994.93 L236.59 993.12 L244.3 991.12 L253.04 988.95 L262.76 986.61 L273.39 984.13 L284.83 981.52 L297 978.81 L309.82 976.01 L323.18 973.15 L336.98 970.25 L351.12 967.33 L365.49 964.41 L379.98 961.52 L394.47 958.67 L408.87 955.9 L423.05 953.21 L436.92 950.63 L450.36 948.19 L463.28 945.89 L475.57 943.75 L487.14 941.8 L497.91 940.05 L507.79 938.51 L516.7 937.19 L524.58 936.1 L531.38 935.25 L537.03 934.65 L541.49 934.3 L544.73 934.2 L546.73 934.36Z" fill="none" stroke="#377EB8" stroke-width="2.8" stroke-linejoin="round"/>
<g fill="#8B0000" stroke="#8B0000" stroke-width="0.3" font-family="'Liberation Sans', sans-serif" font-size="24.2">
<text x="639.53" y="1015.92" text-anchor="middle" dy="0.36em" transform="rotate(-11.35 639.53 1015.92)">res_ctmin</text>
<text x="322.88" y="1078.1" text-anchor="middle" dy="0.36em" transform="rotate(-10.39 322.88 1078.1)">res_tb</text>
<text x="248.67" y="1077.48" text-anchor="middle" dy="0.36em" transform="rotate(-5.19 248.67 1077.48)">res_tpref</text>
<text x="172.61" y="1104.8" text-anchor="middle" dy="0.36em" transform="rotate(-10.19 172.61 1104.8)">res_ctmax</text>
<text x="120.77" y="1116.64" text-anchor="middle" dy="0.36em" transform="rotate(-10.68 120.77 1116.64)">res_amptol</text>
<text x="467.67" y="1296.77" text-anchor="middle" dy="0.36em" transform="rotate(74.39 467.67 1296.77)">mass</text>
<text x="444.71" y="1292.74" text-anchor="middle" dy="0.36em" transform="rotate(79.57 444.71 1292.74)">SVL</text>
</g>
</g>
<path d="M81.8 895 L81.8 1414.3 L908.4 1414.3" fill="none" stroke="#000" stroke-width="2.8" stroke-linejoin="miter"/>
<path d="M221.7 1415.7 v6.5 M402.5 1415.7 v6.5 M583.3 1415.7 v6.5 M764.1 1415.7 v6.5 M80.4 973.1 h-6.5 M80.4 1063.5 h-6.5 M80.4 1153.9 h-6.5 M80.4 1244.3 h-6.5 M80.4 1334.7 h-6.5" stroke="#333" stroke-width="2.5" fill="none"/>
<g fill="#4D4D4D" stroke="#4D4D4D" stroke-width="0.3" font-family="'Liberation Sans', sans-serif" font-size="24.2">
<text x="221.7" y="1445.8" text-anchor="middle">−2</text>
<text x="402.5" y="1445.8" text-anchor="middle">0</text>
<text x="583.3" y="1445.8" text-anchor="middle">2</text>
<text x="764.1" y="1445.8" text-anchor="middle">4</text>
<text x="67" y="981.6" text-anchor="end">1</text>
<text x="67" y="1072" text-anchor="end">0</text>
<text x="67" y="1162.4" text-anchor="end">−1</text>
<text x="67" y="1252.8" text-anchor="end">−2</text>
<text x="67" y="1343.2" text-anchor="end">−3</text>
</g>
<text x="495.3" y="1478.5" text-anchor="middle" font-family="'Liberation Sans', sans-serif" font-size="29.95" fill="#000" stroke="#000" stroke-width="0.4">PC1 (34.2% explained var.)</text>
<text x="25.8" y="1153.8" text-anchor="middle" font-family="'Liberation Sans', sans-serif" font-size="29.95" fill="#000" stroke="#000" stroke-width="0.4" transform="rotate(-90 25.8 1153.8)">PC2 (27.6% explained var.)</text>
<line x1="135.3" y1="877.9" x2="185.6" y2="877.9" stroke="#4DAF4A" stroke-width="3.5"/>
<circle cx="160.45" cy="877.9" r="8.3" fill="#4DAF4A"/>
<text x="212.2" y="888.6" font-family="'Liberation Sans', sans-serif" font-size="33" fill="#000" stroke="#000" stroke-width="0.4">adult</text>
<line x1="135.3" y1="912.2" x2="185.6" y2="912.2" stroke="#377EB8" stroke-width="3.5"/>
<circle cx="160.45" cy="912.2" r="8.3" fill="#377EB8"/>
<text x="212.4" y="922.7" font-family="'Liberation Sans', sans-serif" font-size="33" fill="#000" stroke="#000" stroke-width="0.4">newborn</text>
<text x="0" y="0" font-family="'Liberation Sans', sans-serif" font-weight="bold" font-size="48.8" fill="#000" stroke="#000" stroke-width="1.6" transform="translate(12.2 898.6) scale(0.81 1)">C</text>
</g>
<g id="panelD">
<clipPath id="clipD"><rect x="1025.8" y="911" width="1007.2" height="492.9"/></clipPath>
<g clip-path="url(#clipD)">
<path d="M1416.6 1176.3 L1212.6 1162.8 M1228.39 1173.37 L1212.6 1162.8 L1229.65 1154.41 M1416.6 1176.3 L1332.2 1162.6 M1346.92 1174.61 L1332.2 1162.6 L1349.96 1155.86 M1416.6 1176.3 L1262.9 1235.6 M1281.67 1238.54 L1262.9 1235.6 L1274.83 1220.81 M1416.6 1176.3 L1584.3 1243.6 M1572.57 1228.66 L1584.3 1243.6 L1565.49 1246.29 M1416.6 1176.3 L1456 1176.2 M1439.52 1166.74 L1456 1176.2 L1439.57 1185.74 M1416.6 1176.3 L1472.6 1176.3 M1456.15 1166.8 L1472.6 1176.3 L1456.15 1185.8 M1416.6 1176.3 L1386.4 1373.4 M1398.28 1358.57 L1386.4 1373.4 L1379.5 1355.7" fill="none" stroke="#832424" stroke-width="3" stroke-linejoin="miter" stroke-linecap="butt"/>
<g fill="#377EB8"><circle cx="1411.29" cy="935.61" r="7.3"/><circle cx="1404.77" cy="963.31" r="7.3"/><circle cx="1489.51" cy="976.89" r="7.3"/><circle cx="1199.43" cy="985.58" r="7.3"/><circle cx="1071.78" cy="989.38" r="7.3"/><circle cx="1435.19" cy="1027.41" r="7.3"/><circle cx="1278.74" cy="1031.21" r="7.3"/><circle cx="1266.79" cy="1044.25" r="7.3"/><circle cx="1264.62" cy="1054.57" r="7.3"/><circle cx="1337.41" cy="1037.73" r="7.3"/><circle cx="1353.71" cy="1068.15" r="7.3"/><circle cx="1323.83" cy="1079.56" r="7.3"/><circle cx="1419.98" cy="1076.84" r="7.3"/><circle cx="1577.51" cy="1087.16" r="7.3"/><circle cx="1309.71" cy="1103.46" r="7.3"/><circle cx="1376.52" cy="1099.11" r="7.3"/><circle cx="1396.08" cy="1102.37" r="7.3"/><circle cx="1408.03" cy="1111.61" r="7.3"/><circle cx="1476.47" cy="1110.52" r="7.3"/><circle cx="1316.77" cy="1152.89" r="7.3"/><circle cx="1216.27" cy="1162.13" r="7.3"/><circle cx="1232.03" cy="1165.93" r="7.3"/><circle cx="1192.91" cy="1177.88" r="7.3"/><circle cx="1320.57" cy="1171.9" r="7.3"/><circle cx="1382.5" cy="1181.14" r="7.3"/><circle cx="1444.42" cy="1175.71" r="7.3"/><circle cx="1613.36" cy="1191.46" r="7.3"/><circle cx="1293.41" cy="1199.61" r="7.3"/><circle cx="1311.88" cy="1216.99" r="7.3"/><circle cx="1572.62" cy="1219.71" r="7.3"/><circle cx="1509.61" cy="1224.59" r="7.3"/><circle cx="1324.92" cy="1231.11" r="7.3"/><circle cx="1317.31" cy="1235.46" r="7.3"/><circle cx="1398.79" cy="1232.74" r="7.3"/><circle cx="1393.36" cy="1239.26" r="7.3"/><circle cx="1456.37" cy="1239.26" r="7.3"/><circle cx="1582.94" cy="1256.64" r="7.3"/><circle cx="1629.11" cy="1257.19" r="7.3"/><circle cx="1400.42" cy="1265.34" r="7.3"/><circle cx="1317.85" cy="1276.74" r="7.3"/><circle cx="1269.51" cy="1285.98" r="7.3"/><circle cx="1247.78" cy="1293.04" r="7.3"/><circle cx="1552.52" cy="1289.24" r="7.3"/><circle cx="1556.87" cy="1297.38" r="7.3"/><circle cx="1406.4" cy="1302.27" r="7.3"/><circle cx="1415.09" cy="1300.64" r="7.3"/><circle cx="1587.29" cy="1319.11" r="7.3"/><circle cx="1668.77" cy="1320.74" r="7.3"/><circle cx="1416.72" cy="1338.13" r="7.3"/><circle cx="1492.77" cy="1344.64" r="7.3"/><circle cx="1499.83" cy="1347.9" r="7.3"/><circle cx="1620.97" cy="1360.4" r="7.3"/><circle cx="1315.68" cy="1381.04" r="7.3"/></g>
<g fill="#4DAF4A"><circle cx="1378.69" cy="932.89" r="7.3"/><circle cx="1325.46" cy="994.82" r="7.3"/><circle cx="1465.06" cy="1005.68" r="7.3"/><circle cx="1160.32" cy="1054.03" r="7.3"/><circle cx="1373.8" cy="1049.14" r="7.3"/><circle cx="1456.92" cy="1054.03" r="7.3"/><circle cx="1638.89" cy="1063.8" r="7.3"/><circle cx="1904.52" cy="1052.94" r="7.3"/><circle cx="1774.7" cy="1076.84" r="7.3"/><circle cx="1429.21" cy="1095.85" r="7.3"/><circle cx="1512.87" cy="1099.66" r="7.3"/><circle cx="1987.09" cy="1120.3" r="7.3"/><circle cx="1768.18" cy="1126.27" r="7.3"/><circle cx="1484.62" cy="1131.16" r="7.3"/><circle cx="1239.63" cy="1136.05" r="7.3"/><circle cx="1397.71" cy="1146.92" r="7.3"/><circle cx="1467.78" cy="1157.78" r="7.3"/><circle cx="1600.32" cy="1158.32" r="7.3"/><circle cx="1732.32" cy="1157.24" r="7.3"/><circle cx="1387.38" cy="1172.99" r="7.3"/><circle cx="1416.72" cy="1188.74" r="7.3"/><circle cx="1587.29" cy="1209.38" r="7.3"/><circle cx="1408.03" cy="1216.45" r="7.3"/><circle cx="1268.96" cy="1226.22" r="7.3"/><circle cx="1363.48" cy="1229.48" r="7.3"/><circle cx="1282.54" cy="1238.17" r="7.3"/><circle cx="1249.95" cy="1245.24" r="7.3"/><circle cx="1673.66" cy="1235.46" r="7.3"/><circle cx="1340.67" cy="1253.93" r="7.3"/><circle cx="1367.83" cy="1271.85" r="7.3"/><circle cx="1129.9" cy="1274.03" r="7.3"/><circle cx="1133.16" cy="1300.1" r="7.3"/><circle cx="1276.57" cy="1289.24" r="7.3"/><circle cx="1604.67" cy="1294.13" r="7.3"/><circle cx="1529.71" cy="1339.21" r="7.3"/><circle cx="1234.74" cy="1364.74" r="7.3"/><circle cx="1071.24" cy="1369.63" r="7.3"/></g>
<path d="M1769.3 1115.04 L1768.06 1128.45 L1764.37 1142.19 L1758.24 1156.15 L1749.72 1170.23 L1738.89 1184.31 L1725.81 1198.31 L1710.6 1212.1 L1693.36 1225.58 L1674.23 1238.65 L1653.35 1251.21 L1630.88 1263.16 L1607 1274.42 L1581.88 1284.89 L1555.72 1294.5 L1528.71 1303.18 L1501.07 1310.86 L1472.99 1317.47 L1444.7 1322.98 L1416.41 1327.33 L1388.33 1330.5 L1360.69 1332.46 L1333.68 1333.19 L1307.52 1332.7 L1282.4 1330.98 L1258.52 1328.04 L1236.05 1323.92 L1215.17 1318.63 L1196.04 1312.23 L1178.8 1304.76 L1163.59 1296.27 L1150.51 1286.84 L1139.68 1276.52 L1131.16 1265.41 L1125.03 1253.59 L1121.34 1241.14 L1120.1 1228.16 L1121.34 1214.75 L1125.03 1201.01 L1131.16 1187.05 L1139.68 1172.97 L1150.51 1158.89 L1163.59 1144.89 L1178.8 1131.1 L1196.04 1117.62 L1215.17 1104.55 L1236.05 1091.99 L1258.52 1080.04 L1282.4 1068.78 L1307.52 1058.31 L1333.68 1048.7 L1360.69 1040.02 L1388.33 1032.34 L1416.41 1025.73 L1444.7 1020.22 L1472.99 1015.87 L1501.07 1012.7 L1528.71 1010.74 L1555.72 1010.01 L1581.88 1010.5 L1607 1012.22 L1630.88 1015.16 L1653.35 1019.28 L1674.23 1024.57 L1693.36 1030.97 L1710.6 1038.44 L1725.81 1046.93 L1738.89 1056.36 L1749.72 1066.68 L1758.24 1077.79 L1764.37 1089.61 L1768.06 1102.06Z" fill="none" stroke="#4DAF4A" stroke-width="3" stroke-linejoin="round"/>
<path d="M1594.2 1243.79 L1593.45 1257.96 L1591.22 1271.53 L1587.51 1284.41 L1582.36 1296.49 L1575.81 1307.68 L1567.9 1317.91 L1558.7 1327.08 L1548.27 1335.13 L1536.71 1342.01 L1524.08 1347.65 L1510.49 1352.01 L1496.05 1355.07 L1480.86 1356.79 L1465.04 1357.17 L1448.71 1356.2 L1431.99 1353.88 L1415.01 1350.25 L1397.9 1345.32 L1380.79 1339.13 L1363.81 1331.73 L1347.09 1323.18 L1330.76 1313.53 L1314.94 1302.87 L1299.75 1291.27 L1285.31 1278.83 L1271.72 1265.64 L1259.09 1251.79 L1247.53 1237.4 L1237.1 1222.57 L1227.9 1207.41 L1219.99 1192.05 L1213.44 1176.6 L1208.29 1161.17 L1204.58 1145.88 L1202.35 1130.86 L1201.6 1116.21 L1202.35 1102.04 L1204.58 1088.47 L1208.29 1075.59 L1213.44 1063.51 L1219.99 1052.32 L1227.9 1042.09 L1237.1 1032.92 L1247.53 1024.87 L1259.09 1017.99 L1271.72 1012.35 L1285.31 1007.99 L1299.75 1004.93 L1314.94 1003.21 L1330.76 1002.83 L1347.09 1003.8 L1363.81 1006.12 L1380.79 1009.75 L1397.9 1014.68 L1415.01 1020.87 L1431.99 1028.27 L1448.71 1036.82 L1465.04 1046.47 L1480.86 1057.13 L1496.05 1068.73 L1510.49 1081.17 L1524.08 1094.36 L1536.71 1108.21 L1548.27 1122.6 L1558.7 1137.43 L1567.9 1152.59 L1575.81 1167.95 L1582.36 1183.4 L1587.51 1198.83 L1591.22 1214.12 L1593.45 1229.14Z" fill="none" stroke="#377EB8" stroke-width="3" stroke-linejoin="round"/>
<g fill="#8B0000" stroke="#8B0000" stroke-width="0.4" font-family="'Liberation Sans', sans-serif" font-size="27.4">
<text x="1111.16" y="1156.09" text-anchor="middle" dy="0.36em" transform="rotate(3.79 1111.16 1156.09)">res_amptol</text>
<text x="1252.15" y="1149.61" text-anchor="middle" dy="0.36em" transform="rotate(9.22 1252.15 1149.61)">res_tpref</text>
<text x="1174.47" y="1269.72" text-anchor="middle" dy="0.36em" transform="rotate(-21.1 1174.47 1269.72)">res_ctmax</text>
<text x="1666.97" y="1276.77" text-anchor="middle" dy="0.36em" transform="rotate(21.87 1666.97 1276.77)">res_ctmin</text>
<text x="1494.84" y="1176.1" text-anchor="middle" dy="0.36em" transform="rotate(-0.15 1494.84 1176.1)">SVL</text>
<text x="1521.7" y="1176.3" text-anchor="middle" dy="0.36em" transform="rotate(0 1521.7 1176.3)">mass</text>
<text x="1377.75" y="1429.86" text-anchor="middle" dy="0.36em" transform="rotate(-81.29 1377.75 1429.86)">res_tb</text>
</g>
</g>
<path d="M1025.8 911 L1025.8 1403.9 L2033 1403.9" fill="none" stroke="#000" stroke-width="3.1" stroke-linejoin="miter"/>
<path d="M1196.5 1405.45 v7 M1416.7 1405.45 v7 M1636.9 1405.45 v7 M1857.1 1405.45 v7 M1024.25 956.8 h-7 M1024.25 1066.8 h-7 M1024.25 1176.8 h-7 M1024.25 1286.8 h-7 M1024.25 1396.8 h-7" stroke="#333" stroke-width="2.8" fill="none"/>
<g fill="#4D4D4D" stroke="#4D4D4D" stroke-width="0.4" font-family="'Liberation Sans', sans-serif" font-size="27">
<text x="1196.5" y="1439" text-anchor="middle">−2</text>
<text x="1416.7" y="1439" text-anchor="middle">0</text>
<text x="1636.9" y="1439" text-anchor="middle">2</text>
<text x="1857.1" y="1439" text-anchor="middle">4</text>
<text x="1010" y="966.3" text-anchor="end">2</text>
<text x="1010" y="1076.3" text-anchor="end">1</text>
<text x="1010" y="1186.3" text-anchor="end">0</text>
<text x="1010" y="1296.3" text-anchor="end">−1</text>
<text x="1010" y="1406.3" text-anchor="end">−2</text>
</g>
<text x="1529.6" y="1475" text-anchor="middle" font-family="'Liberation Sans', sans-serif" font-size="33.75" fill="#000" stroke="#000" stroke-width="0.4">PC1 (34.2% explained var.)</text>
<text x="963.7" y="1156.5" text-anchor="middle" font-family="'Liberation Sans', sans-serif" font-size="33.75" fill="#000" stroke="#000" stroke-width="0.4" transform="rotate(-90 963.7 1156.5)">PC3 (15.0% explained var.)</text>
<line x1="1113" y1="878" x2="1164.7" y2="878" stroke="#4DAF4A" stroke-width="3.5"/>
<circle cx="1138.85" cy="878" r="8.3" fill="#4DAF4A"/>
<text x="1189.5" y="889" font-family="'Liberation Sans', sans-serif" font-size="33" fill="#000" stroke="#000" stroke-width="0.4">adult</text>
<line x1="1113" y1="911.7" x2="1164.7" y2="911.7" stroke="#377EB8" stroke-width="3.5"/>
<circle cx="1138.85" cy="911.7" r="8.3" fill="#377EB8"/>
<text x="1189.5" y="923" font-family="'Liberation Sans', sans-serif" font-size="33" fill="#000" stroke="#000" stroke-width="0.4">newborn</text>
<text x="0" y="0" font-family="'Liberation Sans', sans-serif" font-weight="bold" font-size="47.7" fill="#000" stroke="#000" stroke-width="1.6" transform="translate(970.6 899.5) scale(1 1)">D</text>
</g>
</svg>
</body></html>
